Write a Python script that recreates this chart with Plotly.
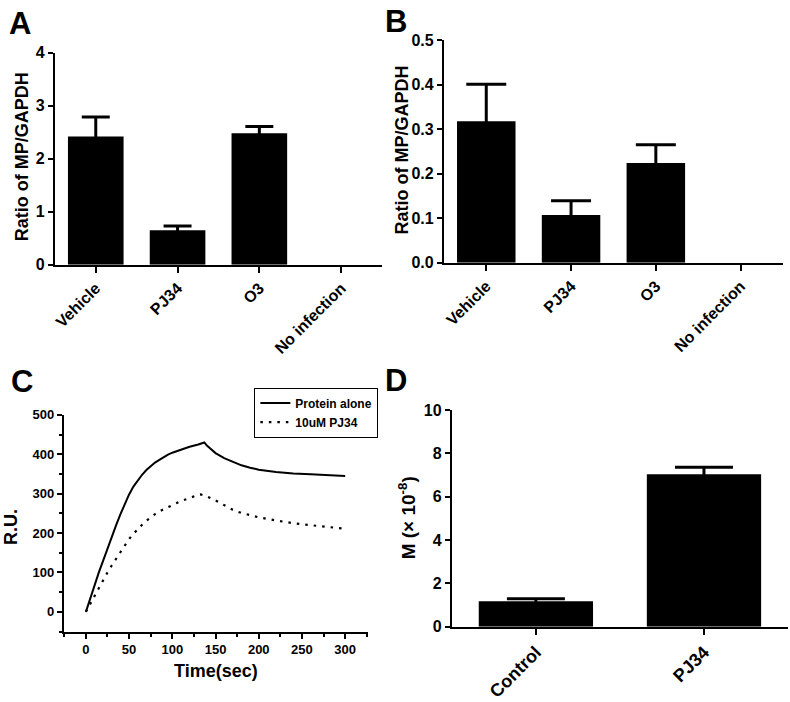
import plotly.graph_objects as go

# ---------------- data ----------------
ab_categories = ["Vehicle", "PJ34", "O3", "No infection"]
a_values = [2.42, 0.65, 2.48, None]
a_errors = [0.37, 0.08, 0.13, None]
b_values = [0.318, 0.107, 0.224, None]
b_errors = [0.083, 0.032, 0.041, None]

c_time_solid = [0, 5, 10, 15, 20, 25, 30, 35, 40, 45, 50, 55, 60, 65, 70, 75, 80, 85, 90, 95,
                100, 110, 120, 130, 137, 140, 145, 150, 160, 170, 180, 190, 200, 220, 240,
                260, 280, 300]
c_protein_alone = [0, 35, 68, 100, 130, 162, 192, 220, 248, 275, 298, 318, 334, 348, 360, 370,
                   379, 386, 393, 399, 404, 412, 419, 425, 430, 422, 412, 403, 390, 380, 372,
                   366, 361, 355, 351, 349, 347, 345]
c_time_dotted = [0, 5, 10, 15, 20, 25, 30, 35, 40, 45, 50, 55, 60, 65, 70, 75, 80, 85, 90, 95,
                 100, 110, 120, 130, 133, 140, 150, 160, 170, 180, 190, 200, 220, 240, 260,
                 280, 300]
c_pj34 = [0, 20, 42, 62, 82, 100, 118, 135, 152, 168, 185, 198, 210, 221, 231, 240, 248, 255,
          261, 266, 271, 281, 290, 297, 298, 293, 283, 270, 259, 251, 245, 240, 232, 225, 220,
          215, 211]

d_categories = ["Control", "PJ34"]
d_values = [1.17, 7.03]
d_errors = [0.12, 0.33]

# ---------------- figure ----------------
W, H = 790, 702
FONT = "Liberation Sans, Arial, sans-serif"


def px_x(p):
    return p / W


def px_y(p):
    return 1 - p / H


fig = go.Figure()

err_style = dict(type="data", symmetric=True, color="black", thickness=3)

fig.add_trace(go.Bar(x=ab_categories, y=a_values, width=0.68, marker=dict(color="black", line=dict(width=0)),
                     error_y=dict(array=a_errors, width=14, **err_style),
                     showlegend=False, xaxis="x", yaxis="y"))
fig.add_trace(go.Bar(x=ab_categories, y=b_values, width=0.69, marker=dict(color="black", line=dict(width=0)),
                     error_y=dict(array=b_errors, width=20, **err_style),
                     showlegend=False, xaxis="x2", yaxis="y2"))
fig.add_trace(go.Scatter(x=c_time_solid, y=c_protein_alone, mode="lines", name="Protein alone",
                         line=dict(color="black", width=2), xaxis="x3", yaxis="y3"))
fig.add_trace(go.Scatter(x=c_time_dotted, y=c_pj34, mode="lines", name="10uM PJ34",
                         line=dict(color="black", width=2.2, dash="2.5px,6px"), xaxis="x3", yaxis="y3"))
fig.add_trace(go.Bar(x=d_categories, y=d_values, width=0.68, marker=dict(color="black", line=dict(width=0)),
                     error_y=dict(array=d_errors, width=29, **err_style),
                     showlegend=False, xaxis="x4", yaxis="y4"))

base_axis = dict(showgrid=False, zeroline=False, showline=True, linecolor="black", linewidth=2,
                 ticks="outside", tickwidth=2, tickcolor="black", ticklen=6, mirror=False,
                 fixedrange=True)

cat_font = dict(family=FONT, size=16, color="black", weight="bold")
num_font = dict(family=FONT, size=16, color="black", weight="bold")
c_font = dict(family=FONT, size=13, color="black", weight="bold")

fig.update_layout(
    width=W, height=H,
    margin=dict(l=0, r=0, t=0, b=0),
    paper_bgcolor="white", plot_bgcolor="white",
    font=dict(family=FONT, color="black"),
    # Panel A
    xaxis=dict(base_axis, domain=[px_x(53), px_x(381)], range=[-0.5, 3.5], anchor="y",
               tickangle=-45, tickfont=cat_font, type="category"),
    yaxis=dict(base_axis, domain=[px_y(263), px_y(46)], range=[0, 4], anchor="x",
               tickvals=[0, 1, 2, 3, 4], tickfont=num_font, ticklen=5),
    # Panel B
    xaxis2=dict(base_axis, domain=[px_x(443), px_x(783)], range=[-0.5, 3.5], anchor="y2",
                tickangle=-45, tickfont=cat_font, type="category"),
    yaxis2=dict(base_axis, domain=[px_y(261), px_y(33)], range=[0, 0.5], anchor="x2",
                tickvals=[0, 0.1, 0.2, 0.3, 0.4, 0.5], tickformat=".1f", tickfont=num_font, ticklen=5),
    # Panel C
    xaxis3=dict(base_axis, domain=[px_x(62), px_x(367)], range=[-25.5, 326.5], anchor="y3",
                tickvals=[0, 50, 100, 150, 200, 250, 300], tickfont=c_font, ticklen=5,
                minor=dict(tickvals=[-25, 25, 75, 125, 175, 225, 275, 325], ticks="outside",
                           ticklen=3, tickwidth=1.5, tickcolor="black")),
    yaxis3=dict(base_axis, domain=[px_y(639), px_y(417)], range=[-50, 500], anchor="x3",
                tickvals=[0, 100, 200, 300, 400, 500], tickfont=c_font, ticklen=5,
                minor=dict(tickvals=[-50, 50, 150, 250, 350, 450], ticks="outside",
                           ticklen=3, tickwidth=1.5, tickcolor="black")),
    # Panel D
    xaxis4=dict(base_axis, domain=[px_x(451), px_x(788)], range=[-0.5, 1.5], anchor="y4",
                tickangle=-45, tickfont=dict(cat_font, size=18), type="category"),
    yaxis4=dict(base_axis, domain=[px_y(634), px_y(412)], range=[0, 10], anchor="x4",
                tickvals=[0, 2, 4, 6, 8, 10], tickfont=num_font, ticklen=5),
    legend=dict(x=px_x(253), y=px_y(389), xanchor="left", yanchor="top",
                bordercolor="black", borderwidth=1, bgcolor="white",
                font=dict(family=FONT, size=12, color="black", weight="bold"),
                itemwidth=30, tracegroupgap=0, traceorder="normal"),
)

annotations = []
# panel letters
for letter, x, y in [("A", 18, 16), ("B", 395, 14), ("C", 20, 383), ("D", 395, 382)]:
    annotations.append(dict(text=letter, x=px_x(x), y=px_y(y), xref="paper", yref="paper",
                            showarrow=False, xanchor="center", yanchor="middle",
                            font=dict(family=FONT, size=31, color="black", weight="bold")))
# axis titles
title_font = dict(family=FONT, size=18, color="black", weight="bold")
for text, x, y, ang, size in [("Ratio of MP/GAPDH", 20, 152, -90, 18),
                              ("Ratio of MP/GAPDH", 402, 145, -90, 18),
                              ("R.U.", 9, 532, -90, 18),
                              ("Time(sec)", 215, 679, 0, 18),
                              ("M (× 10<sup>-8</sup>)", 406, 522, -90, 19)]:
    annotations.append(dict(text=text, x=px_x(x), y=px_y(y), xref="paper", yref="paper",
                            showarrow=False, xanchor="center", yanchor="middle", textangle=ang,
                            font=dict(title_font, size=size)))
fig.update_layout(annotations=annotations)

fig.write_html("out.html", config={"displayModeBar": False},
               post_script="document.body.style.margin='0';")
